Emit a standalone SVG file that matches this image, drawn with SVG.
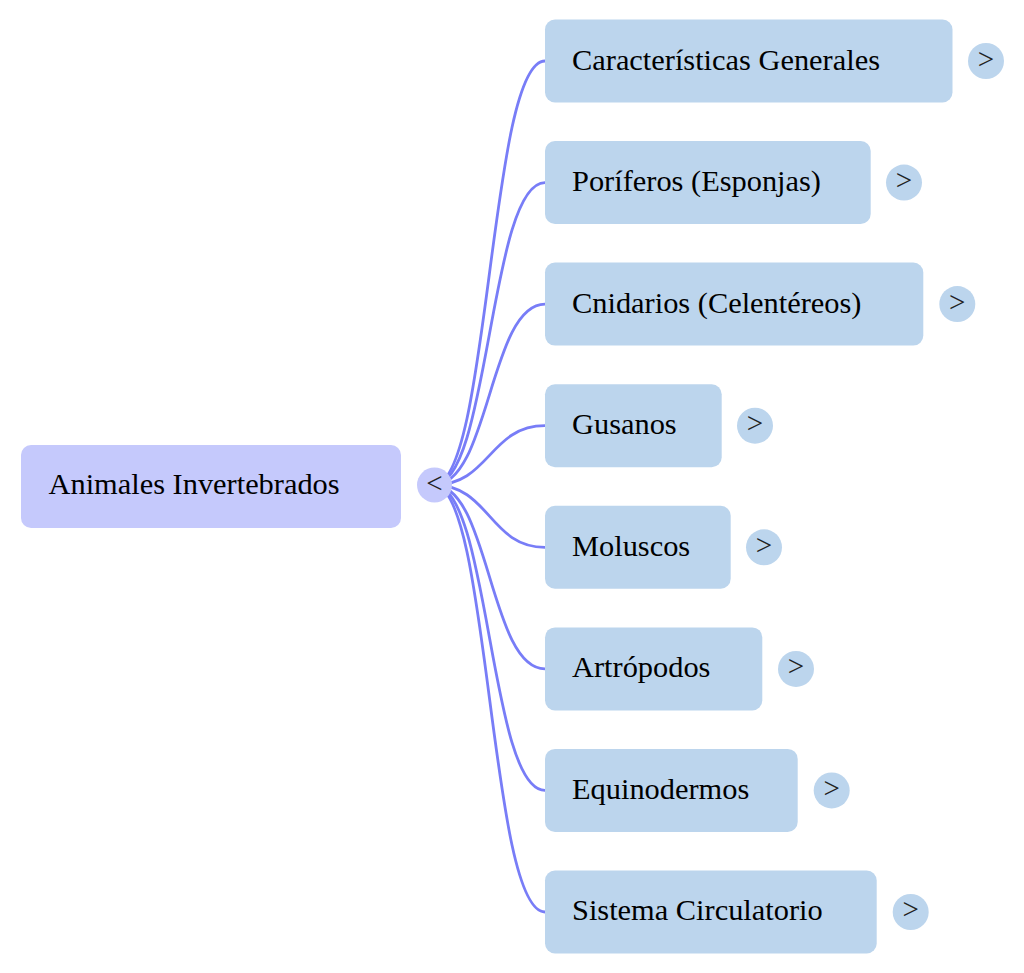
<svg xmlns="http://www.w3.org/2000/svg" width="1024" height="973" viewBox="0 0 1024 973">
<style>
.root{fill:#c5c9fc}
.child{fill:#bcd5ed}
.lbl{font-family:"Liberation Serif","Times New Roman",serif;font-size:30.4px;fill:#000}
.tg{font-family:"Liberation Serif","Times New Roman",serif;font-size:29px;fill:#222;text-anchor:middle}
.link{fill:none;stroke:#787df7;stroke-width:2.8}
</style>
<rect width="1024" height="973" fill="#fff"/>
<g id="connectors">
<path class="link" d="M434,485 C489.5,485 489.5,61 545,61"/>
<path class="link" d="M434,485 C489.5,485 489.5,182.6 545,182.6"/>
<path class="link" d="M434,485 C489.5,485 489.5,304.1 545,304.1"/>
<path class="link" d="M434,485 C489.5,485 489.5,425.7 545,425.7"/>
<path class="link" d="M434,485 C489.5,485 489.5,547.3 545,547.3"/>
<path class="link" d="M434,485 C489.5,485 489.5,668.9 545,668.9"/>
<path class="link" d="M434,485 C489.5,485 489.5,790.4 545,790.4"/>
<path class="link" d="M434,485 C489.5,485 489.5,912 545,912"/>
</g>
<g id="root">
<rect class="root" x="21" y="445" width="380" height="83" rx="10"/>
<text class="lbl" x="48.5" y="493.5">Animales Invertebrados</text>
<circle class="root" cx="434.5" cy="485" r="17.5"/>
<text class="tg" x="434.5" y="492.5">&lt;</text>
</g>
<g id="n1">
<rect class="child" x="545" y="19.5" width="407.5" height="83" rx="10"/>
<text class="lbl" x="572" y="69.5">Características Generales</text>
<circle class="child" cx="986" cy="61" r="18"/>
<text class="tg" x="986" y="68.5">&gt;</text>
</g>
<g id="n2">
<rect class="child" x="545" y="141" width="325.7" height="83" rx="10"/>
<text class="lbl" x="572" y="191">Poríferos (Esponjas)</text>
<circle class="child" cx="904" cy="182.6" r="18"/>
<text class="tg" x="904" y="190">&gt;</text>
</g>
<g id="n3">
<rect class="child" x="545" y="262.6" width="378.3" height="83" rx="10"/>
<text class="lbl" x="572" y="312.5">Cnidarios (Celentéreos)</text>
<circle class="child" cx="957.3" cy="304.1" r="18"/>
<text class="tg" x="957.3" y="311.5">&gt;</text>
</g>
<g id="n4">
<rect class="child" x="545" y="384.2" width="176.7" height="83" rx="10"/>
<text class="lbl" x="572" y="434">Gusanos</text>
<circle class="child" cx="755" cy="425.7" r="18"/>
<text class="tg" x="755" y="433">&gt;</text>
</g>
<g id="n5">
<rect class="child" x="545" y="505.8" width="185.7" height="83" rx="10"/>
<text class="lbl" x="572" y="555.5">Moluscos</text>
<circle class="child" cx="764" cy="547.3" r="18"/>
<text class="tg" x="764" y="554.7">&gt;</text>
</g>
<g id="n6">
<rect class="child" x="545" y="627.4" width="217.3" height="83" rx="10"/>
<text class="lbl" x="572" y="677">Artrópodos</text>
<circle class="child" cx="796" cy="668.9" r="18"/>
<text class="tg" x="796" y="676.3">&gt;</text>
</g>
<g id="n7">
<rect class="child" x="545" y="748.9" width="252.7" height="83" rx="10"/>
<text class="lbl" x="572" y="798.5">Equinodermos</text>
<circle class="child" cx="831.7" cy="790.4" r="18"/>
<text class="tg" x="831.7" y="797.8">&gt;</text>
</g>
<g id="n8">
<rect class="child" x="545" y="870.5" width="331.7" height="83" rx="10"/>
<text class="lbl" x="572" y="920">Sistema Circulatorio</text>
<circle class="child" cx="910.7" cy="912" r="18"/>
<text class="tg" x="910.7" y="919.4">&gt;</text>
</g>
</svg>
